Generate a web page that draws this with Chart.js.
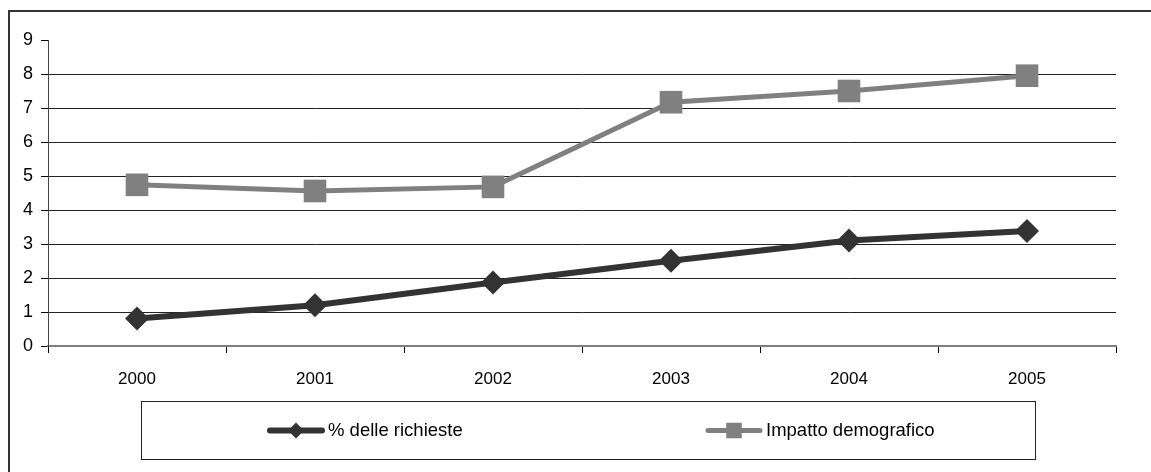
<!DOCTYPE html>
<html>
<head>
<meta charset="utf-8">
<script src="https://cdn.jsdelivr.net/npm/chart.js@4.4.0/dist/chart.umd.min.js"></script>
<style>
  html, body { margin: 0; padding: 0; background: #fff; }
  #wrap { width: 1151px; height: 472px; position: relative; }
</style>
</head>
<body>
<div id="wrap"><canvas id="c" width="1151" height="472"></canvas></div>
<script>
// Years on the category axis
const years = ['2000', '2001', '2002', '2003', '2004', '2005'];
// Series values
const richieste = [0.81, 1.2, 1.87, 2.51, 3.1, 3.38];
const impatto = [4.74, 4.56, 4.68, 7.17, 7.5, 7.95];
// Series names
const seriesNames = ['% delle richieste', 'Impatto demografico'];
// Value axis range and step
const yMin = 0, yMax = 9, yStep = 1;

const FONT = "'Liberation Sans', Arial, sans-serif";

// Outer frame (top and left edges of the surrounding box)
const framePlugin = {
  id: 'frame',
  beforeDraw(chart) {
    const ctx = chart.ctx;
    ctx.save();
    ctx.strokeStyle = '#333';
    ctx.lineWidth = 2;
    ctx.beginPath();
    ctx.moveTo(9, chart.height);
    ctx.lineTo(9, 11);
    ctx.lineTo(chart.width, 11);
    ctx.stroke();
    ctx.restore();
  }
};

// Boxed legend below the plot: a line sample with its marker, then the name
const boxLegendPlugin = {
  id: 'boxLegend',
  afterDraw(chart) {
    const ctx = chart.ctx;
    const box = { left: 141, top: 401, right: 1035, bottom: 459 };
    ctx.save();
    ctx.strokeStyle = '#222';
    ctx.lineWidth = 1;
    ctx.strokeRect(box.left + 0.5, box.top + 0.5, box.right - box.left, box.bottom - box.top);
    const cy = (box.top + box.bottom) / 2 + 0.5;
    const offsets = [126, 564];
    const sampleW = 58;
    chart.data.datasets.forEach((ds, i) => {
      const x = box.left + offsets[i];
      ctx.strokeStyle = ds.borderColor;
      ctx.lineWidth = ds.borderWidth;
      ctx.lineCap = 'round';
      ctx.beginPath();
      ctx.moveTo(x + 3, cy);
      ctx.lineTo(x + sampleW - 3, cy);
      ctx.stroke();
      ctx.fillStyle = ds.pointBackgroundColor;
      Chart.helpers.drawPoint(ctx, {
        pointStyle: ds.pointStyle,
        radius: ds.legendRadius,
        rotation: 0,
        borderWidth: 0
      }, x + sampleW / 2, cy);
      ctx.fillStyle = '#000';
      ctx.font = '18.5px ' + FONT;
      ctx.textAlign = 'left';
      ctx.textBaseline = 'middle';
      ctx.fillText(ds.label, x + sampleW + 3, cy);
    });
    ctx.restore();
  }
};

new Chart(document.getElementById('c'), {
  type: 'line',
  data: {
    labels: years,
    datasets: [
      {
        label: seriesNames[0],
        data: richieste,
        borderColor: '#333333',
        backgroundColor: '#333333',
        pointBackgroundColor: '#333333',
        pointBorderColor: '#333333',
        borderWidth: 6,
        pointStyle: 'rectRot',
        pointRadius: 12,
        pointBorderWidth: 0,
        legendRadius: 8,
        tension: 0,
        fill: false
      },
      {
        label: seriesNames[1],
        data: impatto,
        borderColor: '#808080',
        backgroundColor: '#808080',
        pointBackgroundColor: '#808080',
        pointBorderColor: '#808080',
        borderWidth: 5,
        pointStyle: 'rect',
        pointRadius: 16,
        pointBorderWidth: 0,
        legendRadius: 11,
        tension: 0,
        fill: false
      }
    ]
  },
  options: {
    responsive: false,
    animation: false,
    devicePixelRatio: 1,
    layout: { padding: { top: 40, right: 35, left: 0, bottom: 0 } },
    plugins: {
      legend: { display: false },
      tooltip: { enabled: false },
      title: { display: false }
    },
    scales: {
      x: {
        type: 'category',
        offset: true,
        grid: {
          offset: true,
          drawOnChartArea: false,
          drawTicks: true,
          tickLength: 7,
          tickColor: '#000',
          tickWidth: 1
        },
        border: { display: true, color: '#7f7f7f', width: 2 },
        ticks: {
          color: '#000',
          font: { family: FONT, size: 17 },
          padding: 16,
          maxRotation: 0,
          autoSkip: false
        },
        afterFit(scale) { scale.height = 126; }
      },
      y: {
        min: yMin,
        max: yMax,
        ticks: {
          stepSize: yStep,
          color: '#000',
          font: { family: FONT, size: 18 },
          padding: 8
        },
        grid: {
          color: (c) => (c.tick && (c.tick.value === yMax || c.tick.value === yMin)) ? 'rgba(0,0,0,0)' : '#222',
          lineWidth: 1,
          drawTicks: true,
          tickLength: 7,
          tickColor: '#000',
          tickWidth: 1
        },
        border: { display: true, color: '#444', width: 1 },
        afterFit(scale) { scale.width = 48; }
      }
    }
  },
  plugins: [framePlugin, boxLegendPlugin]
});
</script>
</body>
</html>
